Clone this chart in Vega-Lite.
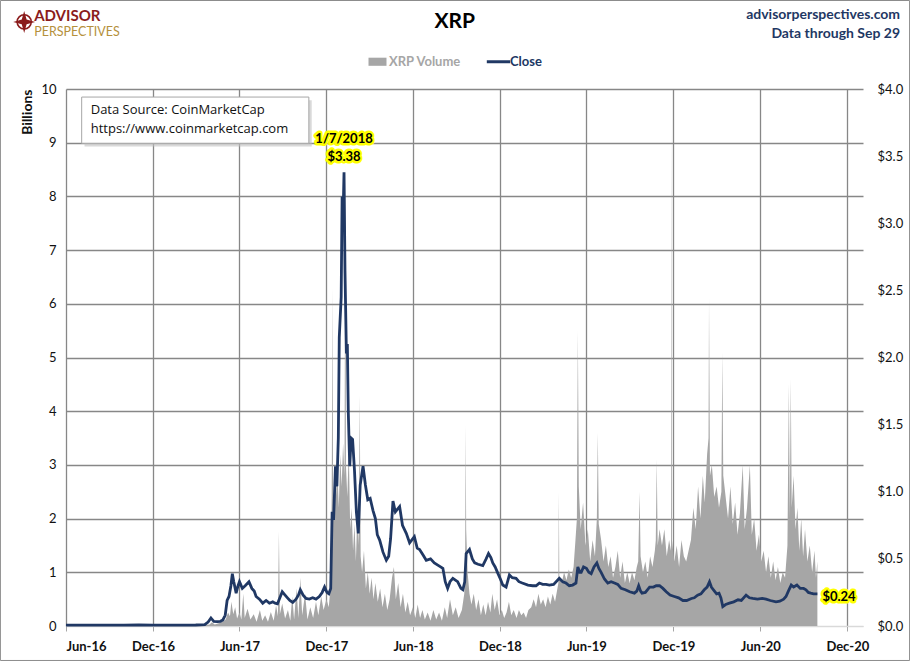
{
  "$schema": "https://vega.github.io/schema/vega-lite/v6.json",
  "width": 797,
  "height": 537,
  "autosize": "none",
  "padding": {"left": 66, "top": 89, "right": 47, "bottom": 35},
  "background": "white",
  "config": {
    "font": "Lato",
    "view": {"stroke": null},
    "axis": {"labelFont": "Lato", "titleFont": "Lato", "labelColor": "#111", "titleColor": "#111"}
  },
  "datasets": {
    "price": [
      {"date": "2016-06-01", "close": 0.006}, {"date": "2016-07-01", "close": 0.0065}, {"date": "2016-08-01", "close": 0.0062},
      {"date": "2016-09-01", "close": 0.0068}, {"date": "2016-10-01", "close": 0.0072}, {"date": "2016-11-01", "close": 0.0075},
      {"date": "2016-12-01", "close": 0.0068}, {"date": "2017-01-01", "close": 0.0065}, {"date": "2017-02-01", "close": 0.0063},
      {"date": "2017-03-01", "close": 0.0075}, {"date": "2017-03-20", "close": 0.01}, {"date": "2017-03-27", "close": 0.03},
      {"date": "2017-04-02", "close": 0.06}, {"date": "2017-04-08", "close": 0.035}, {"date": "2017-04-15", "close": 0.032},
      {"date": "2017-04-22", "close": 0.035}, {"date": "2017-04-27", "close": 0.045}, {"date": "2017-05-02", "close": 0.08},
      {"date": "2017-05-06", "close": 0.19}, {"date": "2017-05-10", "close": 0.22}, {"date": "2017-05-14", "close": 0.3},
      {"date": "2017-05-17", "close": 0.39}, {"date": "2017-05-20", "close": 0.33}, {"date": "2017-05-25", "close": 0.245},
      {"date": "2017-05-29", "close": 0.3}, {"date": "2017-06-01", "close": 0.33}, {"date": "2017-06-07", "close": 0.28},
      {"date": "2017-06-13", "close": 0.3}, {"date": "2017-06-21", "close": 0.33}, {"date": "2017-06-27", "close": 0.28},
      {"date": "2017-07-02", "close": 0.26}, {"date": "2017-07-06", "close": 0.22}, {"date": "2017-07-13", "close": 0.2},
      {"date": "2017-07-20", "close": 0.17}, {"date": "2017-07-27", "close": 0.19}, {"date": "2017-08-03", "close": 0.17},
      {"date": "2017-08-10", "close": 0.18}, {"date": "2017-08-15", "close": 0.17}, {"date": "2017-08-20", "close": 0.165},
      {"date": "2017-08-25", "close": 0.21}, {"date": "2017-08-30", "close": 0.255}, {"date": "2017-09-05", "close": 0.23},
      {"date": "2017-09-10", "close": 0.21}, {"date": "2017-09-15", "close": 0.19}, {"date": "2017-09-21", "close": 0.175},
      {"date": "2017-09-28", "close": 0.2}, {"date": "2017-10-03", "close": 0.23}, {"date": "2017-10-07", "close": 0.27},
      {"date": "2017-10-13", "close": 0.23}, {"date": "2017-10-19", "close": 0.205}, {"date": "2017-10-26", "close": 0.2},
      {"date": "2017-11-02", "close": 0.21}, {"date": "2017-11-09", "close": 0.2}, {"date": "2017-11-16", "close": 0.22},
      {"date": "2017-11-22", "close": 0.25}, {"date": "2017-11-27", "close": 0.29}, {"date": "2017-12-02", "close": 0.25},
      {"date": "2017-12-06", "close": 0.24}, {"date": "2017-12-10", "close": 0.28}, {"date": "2017-12-13", "close": 0.85},
      {"date": "2017-12-16", "close": 0.79}, {"date": "2017-12-20", "close": 1.19}, {"date": "2017-12-23", "close": 1.04},
      {"date": "2017-12-26", "close": 1.4}, {"date": "2017-12-28", "close": 2.15}, {"date": "2018-01-01", "close": 2.45},
      {"date": "2018-01-03", "close": 3.2}, {"date": "2018-01-05", "close": 3.05}, {"date": "2018-01-07", "close": 3.38},
      {"date": "2018-01-09", "close": 2.65}, {"date": "2018-01-12", "close": 2.03}, {"date": "2018-01-14", "close": 2.1},
      {"date": "2018-01-16", "close": 1.59}, {"date": "2018-01-19", "close": 1.19}, {"date": "2018-01-22", "close": 1.4},
      {"date": "2018-01-25", "close": 1.39}, {"date": "2018-01-29", "close": 1.16}, {"date": "2018-02-02", "close": 0.85},
      {"date": "2018-02-06", "close": 0.69}, {"date": "2018-02-10", "close": 1.05}, {"date": "2018-02-16", "close": 1.19},
      {"date": "2018-02-21", "close": 1.05}, {"date": "2018-02-26", "close": 0.94}, {"date": "2018-03-03", "close": 0.95},
      {"date": "2018-03-09", "close": 0.86}, {"date": "2018-03-14", "close": 0.8}, {"date": "2018-03-18", "close": 0.68},
      {"date": "2018-03-23", "close": 0.64}, {"date": "2018-03-30", "close": 0.55}, {"date": "2018-04-06", "close": 0.49},
      {"date": "2018-04-11", "close": 0.52}, {"date": "2018-04-15", "close": 0.65}, {"date": "2018-04-20", "close": 0.93},
      {"date": "2018-04-25", "close": 0.85}, {"date": "2018-05-04", "close": 0.89}, {"date": "2018-05-10", "close": 0.75},
      {"date": "2018-05-18", "close": 0.69}, {"date": "2018-05-25", "close": 0.62}, {"date": "2018-06-04", "close": 0.665},
      {"date": "2018-06-10", "close": 0.58}, {"date": "2018-06-15", "close": 0.57}, {"date": "2018-06-22", "close": 0.53},
      {"date": "2018-06-29", "close": 0.49}, {"date": "2018-07-08", "close": 0.5}, {"date": "2018-07-16", "close": 0.47},
      {"date": "2018-07-25", "close": 0.45}, {"date": "2018-08-03", "close": 0.43}, {"date": "2018-08-08", "close": 0.33},
      {"date": "2018-08-13", "close": 0.28}, {"date": "2018-08-18", "close": 0.33}, {"date": "2018-08-24", "close": 0.355},
      {"date": "2018-09-03", "close": 0.33}, {"date": "2018-09-10", "close": 0.28}, {"date": "2018-09-14", "close": 0.27},
      {"date": "2018-09-18", "close": 0.33}, {"date": "2018-09-21", "close": 0.54}, {"date": "2018-09-28", "close": 0.57},
      {"date": "2018-10-04", "close": 0.5}, {"date": "2018-10-09", "close": 0.47}, {"date": "2018-10-16", "close": 0.46},
      {"date": "2018-10-26", "close": 0.45}, {"date": "2018-11-02", "close": 0.5}, {"date": "2018-11-07", "close": 0.54},
      {"date": "2018-11-12", "close": 0.51}, {"date": "2018-11-16", "close": 0.47}, {"date": "2018-11-21", "close": 0.44},
      {"date": "2018-11-27", "close": 0.39}, {"date": "2018-12-02", "close": 0.35}, {"date": "2018-12-07", "close": 0.305},
      {"date": "2018-12-14", "close": 0.29}, {"date": "2018-12-21", "close": 0.38}, {"date": "2018-12-27", "close": 0.36},
      {"date": "2019-01-04", "close": 0.355}, {"date": "2019-01-10", "close": 0.33}, {"date": "2019-01-17", "close": 0.32},
      {"date": "2019-01-29", "close": 0.305}, {"date": "2019-02-08", "close": 0.3}, {"date": "2019-02-15", "close": 0.3},
      {"date": "2019-02-22", "close": 0.32}, {"date": "2019-03-01", "close": 0.31}, {"date": "2019-03-08", "close": 0.31},
      {"date": "2019-03-15", "close": 0.305}, {"date": "2019-03-24", "close": 0.31}, {"date": "2019-04-05", "close": 0.355},
      {"date": "2019-04-12", "close": 0.33}, {"date": "2019-04-19", "close": 0.32}, {"date": "2019-04-26", "close": 0.3},
      {"date": "2019-05-03", "close": 0.305}, {"date": "2019-05-10", "close": 0.32}, {"date": "2019-05-14", "close": 0.44},
      {"date": "2019-05-18", "close": 0.4}, {"date": "2019-05-21", "close": 0.4}, {"date": "2019-05-26", "close": 0.44},
      {"date": "2019-06-01", "close": 0.43}, {"date": "2019-06-06", "close": 0.4}, {"date": "2019-06-11", "close": 0.39},
      {"date": "2019-06-17", "close": 0.44}, {"date": "2019-06-23", "close": 0.47}, {"date": "2019-06-27", "close": 0.43},
      {"date": "2019-07-02", "close": 0.4}, {"date": "2019-07-09", "close": 0.35}, {"date": "2019-07-16", "close": 0.32},
      {"date": "2019-07-23", "close": 0.33}, {"date": "2019-07-30", "close": 0.32}, {"date": "2019-08-06", "close": 0.31},
      {"date": "2019-08-13", "close": 0.28}, {"date": "2019-08-22", "close": 0.27}, {"date": "2019-08-31", "close": 0.255},
      {"date": "2019-09-10", "close": 0.245}, {"date": "2019-09-15", "close": 0.26}, {"date": "2019-09-19", "close": 0.3},
      {"date": "2019-09-23", "close": 0.26}, {"date": "2019-09-26", "close": 0.245}, {"date": "2019-10-03", "close": 0.25},
      {"date": "2019-10-12", "close": 0.29}, {"date": "2019-10-20", "close": 0.29}, {"date": "2019-10-26", "close": 0.3},
      {"date": "2019-11-02", "close": 0.3}, {"date": "2019-11-09", "close": 0.28}, {"date": "2019-11-16", "close": 0.255},
      {"date": "2019-11-24", "close": 0.23}, {"date": "2019-12-03", "close": 0.22}, {"date": "2019-12-12", "close": 0.21},
      {"date": "2019-12-21", "close": 0.19}, {"date": "2019-12-29", "close": 0.19}, {"date": "2020-01-08", "close": 0.205},
      {"date": "2020-01-14", "close": 0.21}, {"date": "2020-01-21", "close": 0.23}, {"date": "2020-01-28", "close": 0.24},
      {"date": "2020-02-04", "close": 0.27}, {"date": "2020-02-10", "close": 0.29}, {"date": "2020-02-15", "close": 0.33},
      {"date": "2020-02-19", "close": 0.29}, {"date": "2020-02-23", "close": 0.27}, {"date": "2020-03-01", "close": 0.24},
      {"date": "2020-03-06", "close": 0.245}, {"date": "2020-03-10", "close": 0.21}, {"date": "2020-03-14", "close": 0.145},
      {"date": "2020-03-20", "close": 0.16}, {"date": "2020-03-28", "close": 0.17}, {"date": "2020-04-06", "close": 0.18},
      {"date": "2020-04-15", "close": 0.195}, {"date": "2020-04-22", "close": 0.19}, {"date": "2020-05-02", "close": 0.23},
      {"date": "2020-05-09", "close": 0.21}, {"date": "2020-05-16", "close": 0.205}, {"date": "2020-05-26", "close": 0.2},
      {"date": "2020-06-05", "close": 0.205}, {"date": "2020-06-13", "close": 0.2}, {"date": "2020-06-22", "close": 0.19},
      {"date": "2020-07-04", "close": 0.18}, {"date": "2020-07-12", "close": 0.185}, {"date": "2020-07-20", "close": 0.2},
      {"date": "2020-07-25", "close": 0.22}, {"date": "2020-07-30", "close": 0.26}, {"date": "2020-08-05", "close": 0.305},
      {"date": "2020-08-10", "close": 0.29}, {"date": "2020-08-17", "close": 0.305}, {"date": "2020-08-24", "close": 0.28},
      {"date": "2020-08-31", "close": 0.28}, {"date": "2020-09-05", "close": 0.27}, {"date": "2020-09-10", "close": 0.25},
      {"date": "2020-09-15", "close": 0.245}, {"date": "2020-09-21", "close": 0.24}, {"date": "2020-09-29", "close": 0.24}
    ],
    "volume": [
      {"date": "2016-06-01", "volume": 0.002}, {"date": "2016-08-01", "volume": 0.003}, {"date": "2016-10-01", "volume": 0.002},
      {"date": "2016-12-01", "volume": 0.003}, {"date": "2017-02-01", "volume": 0.004}, {"date": "2017-03-15", "volume": 0.01},
      {"date": "2017-03-30", "volume": 0.03}, {"date": "2017-04-04", "volume": 0.07}, {"date": "2017-04-10", "volume": 0.03},
      {"date": "2017-04-18", "volume": 0.05}, {"date": "2017-04-26", "volume": 0.08}, {"date": "2017-05-03", "volume": 0.12},
      {"date": "2017-05-08", "volume": 0.25}, {"date": "2017-05-12", "volume": 0.18}, {"date": "2017-05-15", "volume": 0.45},
      {"date": "2017-05-19", "volume": 0.22}, {"date": "2017-05-23", "volume": 0.35}, {"date": "2017-05-27", "volume": 0.14},
      {"date": "2017-06-01", "volume": 0.25}, {"date": "2017-06-05", "volume": 0.12}, {"date": "2017-06-09", "volume": 0.6},
      {"date": "2017-06-12", "volume": 0.15}, {"date": "2017-06-18", "volume": 0.32}, {"date": "2017-06-24", "volume": 0.12},
      {"date": "2017-07-01", "volume": 0.22}, {"date": "2017-07-07", "volume": 0.08}, {"date": "2017-07-14", "volume": 0.3},
      {"date": "2017-07-19", "volume": 0.1}, {"date": "2017-07-25", "volume": 0.2}, {"date": "2017-07-31", "volume": 0.08},
      {"date": "2017-08-06", "volume": 0.26}, {"date": "2017-08-12", "volume": 0.1}, {"date": "2017-08-17", "volume": 0.38},
      {"date": "2017-08-21", "volume": 0.18}, {"date": "2017-08-23", "volume": 1.76}, {"date": "2017-08-25", "volume": 0.22},
      {"date": "2017-08-30", "volume": 0.42}, {"date": "2017-09-05", "volume": 0.14}, {"date": "2017-09-11", "volume": 0.3},
      {"date": "2017-09-16", "volume": 0.1}, {"date": "2017-09-20", "volume": 0.55}, {"date": "2017-09-24", "volume": 0.12},
      {"date": "2017-09-29", "volume": 0.7}, {"date": "2017-10-03", "volume": 0.15}, {"date": "2017-10-07", "volume": 0.9},
      {"date": "2017-10-11", "volume": 0.2}, {"date": "2017-10-17", "volume": 0.6}, {"date": "2017-10-22", "volume": 0.12},
      {"date": "2017-10-28", "volume": 0.35}, {"date": "2017-11-03", "volume": 0.15}, {"date": "2017-11-09", "volume": 0.45},
      {"date": "2017-11-14", "volume": 0.2}, {"date": "2017-11-20", "volume": 0.55}, {"date": "2017-11-25", "volume": 0.3},
      {"date": "2017-12-01", "volume": 0.5}, {"date": "2017-12-06", "volume": 0.35}, {"date": "2017-12-10", "volume": 0.8},
      {"date": "2017-12-12", "volume": 2.4}, {"date": "2017-12-14", "volume": 6.3}, {"date": "2017-12-15", "volume": 2.2},
      {"date": "2017-12-17", "volume": 2.0}, {"date": "2017-12-19", "volume": 3.0}, {"date": "2017-12-21", "volume": 2.4},
      {"date": "2017-12-24", "volume": 2.9}, {"date": "2017-12-27", "volume": 2.2}, {"date": "2017-12-30", "volume": 3.2},
      {"date": "2018-01-02", "volume": 2.6}, {"date": "2018-01-05", "volume": 3.4}, {"date": "2018-01-08", "volume": 2.8},
      {"date": "2018-01-10", "volume": 8.6}, {"date": "2018-01-11", "volume": 3.0}, {"date": "2018-01-14", "volume": 2.4},
      {"date": "2018-01-17", "volume": 3.3}, {"date": "2018-01-20", "volume": 1.8}, {"date": "2018-01-23", "volume": 2.2},
      {"date": "2018-01-26", "volume": 1.4}, {"date": "2018-01-29", "volume": 1.9}, {"date": "2018-02-01", "volume": 1.2},
      {"date": "2018-02-04", "volume": 2.1}, {"date": "2018-02-07", "volume": 1.5}, {"date": "2018-02-09", "volume": 4.3},
      {"date": "2018-02-11", "volume": 1.3}, {"date": "2018-02-14", "volume": 1.0}, {"date": "2018-02-18", "volume": 1.4},
      {"date": "2018-02-22", "volume": 0.7}, {"date": "2018-02-26", "volume": 1.0}, {"date": "2018-03-02", "volume": 0.6},
      {"date": "2018-03-06", "volume": 0.9}, {"date": "2018-03-10", "volume": 0.5}, {"date": "2018-03-14", "volume": 0.8},
      {"date": "2018-03-19", "volume": 0.45}, {"date": "2018-03-24", "volume": 0.7}, {"date": "2018-03-29", "volume": 0.35},
      {"date": "2018-04-03", "volume": 0.6}, {"date": "2018-04-08", "volume": 0.3}, {"date": "2018-04-13", "volume": 0.5},
      {"date": "2018-04-18", "volume": 0.9}, {"date": "2018-04-22", "volume": 1.1}, {"date": "2018-04-26", "volume": 0.5},
      {"date": "2018-05-01", "volume": 0.8}, {"date": "2018-05-06", "volume": 0.35}, {"date": "2018-05-11", "volume": 0.6},
      {"date": "2018-05-16", "volume": 0.25}, {"date": "2018-05-21", "volume": 0.45}, {"date": "2018-05-26", "volume": 0.2},
      {"date": "2018-06-01", "volume": 0.35}, {"date": "2018-06-06", "volume": 0.15}, {"date": "2018-06-11", "volume": 0.4},
      {"date": "2018-06-16", "volume": 0.15}, {"date": "2018-06-21", "volume": 0.3}, {"date": "2018-06-26", "volume": 0.12},
      {"date": "2018-07-02", "volume": 0.25}, {"date": "2018-07-08", "volume": 0.1}, {"date": "2018-07-14", "volume": 0.3},
      {"date": "2018-07-20", "volume": 0.12}, {"date": "2018-07-26", "volume": 0.25}, {"date": "2018-08-01", "volume": 0.1},
      {"date": "2018-08-07", "volume": 0.35}, {"date": "2018-08-12", "volume": 0.15}, {"date": "2018-08-18", "volume": 0.5},
      {"date": "2018-08-24", "volume": 0.2}, {"date": "2018-08-30", "volume": 0.35}, {"date": "2018-09-05", "volume": 0.15},
      {"date": "2018-09-12", "volume": 0.3}, {"date": "2018-09-17", "volume": 0.6}, {"date": "2018-09-19", "volume": 1.5},
      {"date": "2018-09-20", "volume": 3.74}, {"date": "2018-09-21", "volume": 1.8}, {"date": "2018-09-24", "volume": 1.0},
      {"date": "2018-09-28", "volume": 0.6}, {"date": "2018-10-02", "volume": 0.4}, {"date": "2018-10-07", "volume": 0.6},
      {"date": "2018-10-12", "volume": 0.3}, {"date": "2018-10-17", "volume": 0.5}, {"date": "2018-10-22", "volume": 0.2},
      {"date": "2018-10-27", "volume": 0.4}, {"date": "2018-11-01", "volume": 0.2}, {"date": "2018-11-06", "volume": 0.45},
      {"date": "2018-11-11", "volume": 0.25}, {"date": "2018-11-15", "volume": 0.6}, {"date": "2018-11-20", "volume": 0.3},
      {"date": "2018-11-25", "volume": 0.5}, {"date": "2018-11-30", "volume": 0.2}, {"date": "2018-12-05", "volume": 0.3},
      {"date": "2018-12-10", "volume": 0.15}, {"date": "2018-12-15", "volume": 0.25}, {"date": "2018-12-20", "volume": 0.45},
      {"date": "2018-12-25", "volume": 0.2}, {"date": "2018-12-30", "volume": 0.3}, {"date": "2019-01-05", "volume": 0.15},
      {"date": "2019-01-10", "volume": 0.3}, {"date": "2019-01-15", "volume": 0.2}, {"date": "2019-01-20", "volume": 0.25},
      {"date": "2019-01-25", "volume": 0.15}, {"date": "2019-01-30", "volume": 0.3}, {"date": "2019-02-05", "volume": 0.35},
      {"date": "2019-02-10", "volume": 0.5}, {"date": "2019-02-15", "volume": 0.35}, {"date": "2019-02-20", "volume": 0.6},
      {"date": "2019-02-25", "volume": 0.4}, {"date": "2019-03-02", "volume": 0.5}, {"date": "2019-03-07", "volume": 0.35},
      {"date": "2019-03-12", "volume": 0.55}, {"date": "2019-03-17", "volume": 0.4}, {"date": "2019-03-22", "volume": 0.6},
      {"date": "2019-03-27", "volume": 0.45}, {"date": "2019-04-01", "volume": 0.7}, {"date": "2019-04-03", "volume": 0.8},
      {"date": "2019-04-04", "volume": 2.5}, {"date": "2019-04-05", "volume": 0.9}, {"date": "2019-04-10", "volume": 0.8},
      {"date": "2019-04-15", "volume": 1.0}, {"date": "2019-04-20", "volume": 0.85}, {"date": "2019-04-25", "volume": 1.05},
      {"date": "2019-04-30", "volume": 0.9}, {"date": "2019-05-05", "volume": 1.1}, {"date": "2019-05-09", "volume": 1.6},
      {"date": "2019-05-12", "volume": 2.0}, {"date": "2019-05-14", "volume": 5.5}, {"date": "2019-05-16", "volume": 2.6},
      {"date": "2019-05-20", "volume": 1.8}, {"date": "2019-05-25", "volume": 2.3}, {"date": "2019-05-30", "volume": 1.5},
      {"date": "2019-06-04", "volume": 1.8}, {"date": "2019-06-09", "volume": 1.2}, {"date": "2019-06-14", "volume": 1.6},
      {"date": "2019-06-19", "volume": 1.3}, {"date": "2019-06-23", "volume": 2.0}, {"date": "2019-06-25", "volume": 3.6},
      {"date": "2019-06-27", "volume": 1.9}, {"date": "2019-07-02", "volume": 1.6}, {"date": "2019-07-07", "volume": 1.2},
      {"date": "2019-07-12", "volume": 1.5}, {"date": "2019-07-17", "volume": 1.1}, {"date": "2019-07-22", "volume": 1.3},
      {"date": "2019-07-27", "volume": 0.9}, {"date": "2019-08-01", "volume": 1.1}, {"date": "2019-08-06", "volume": 1.4},
      {"date": "2019-08-11", "volume": 0.9}, {"date": "2019-08-16", "volume": 1.2}, {"date": "2019-08-21", "volume": 0.8},
      {"date": "2019-08-26", "volume": 1.0}, {"date": "2019-08-31", "volume": 0.8}, {"date": "2019-09-05", "volume": 1.0},
      {"date": "2019-09-10", "volume": 0.85}, {"date": "2019-09-15", "volume": 1.1}, {"date": "2019-09-18", "volume": 1.2},
      {"date": "2019-09-21", "volume": 2.5}, {"date": "2019-09-23", "volume": 1.3}, {"date": "2019-09-28", "volume": 1.0},
      {"date": "2019-10-03", "volume": 1.2}, {"date": "2019-10-08", "volume": 0.9}, {"date": "2019-10-13", "volume": 1.3},
      {"date": "2019-10-18", "volume": 1.1}, {"date": "2019-10-23", "volume": 1.4}, {"date": "2019-10-25", "volume": 1.6},
      {"date": "2019-10-27", "volume": 3.1}, {"date": "2019-10-29", "volume": 1.5}, {"date": "2019-11-02", "volume": 1.8},
      {"date": "2019-11-07", "volume": 1.5}, {"date": "2019-11-12", "volume": 1.8}, {"date": "2019-11-17", "volume": 1.3},
      {"date": "2019-11-22", "volume": 1.6}, {"date": "2019-11-26", "volume": 1.4}, {"date": "2019-11-27", "volume": 9.4},
      {"date": "2019-11-28", "volume": 1.6}, {"date": "2019-12-03", "volume": 1.2}, {"date": "2019-12-08", "volume": 1.5},
      {"date": "2019-12-13", "volume": 1.1}, {"date": "2019-12-18", "volume": 1.6}, {"date": "2019-12-23", "volume": 1.3},
      {"date": "2019-12-28", "volume": 1.2}, {"date": "2020-01-02", "volume": 1.4}, {"date": "2020-01-07", "volume": 1.6},
      {"date": "2020-01-12", "volume": 2.2}, {"date": "2020-01-17", "volume": 1.8}, {"date": "2020-01-22", "volume": 2.6},
      {"date": "2020-01-27", "volume": 2.0}, {"date": "2020-02-01", "volume": 2.8}, {"date": "2020-02-05", "volume": 2.3},
      {"date": "2020-02-10", "volume": 3.2}, {"date": "2020-02-13", "volume": 3.5}, {"date": "2020-02-14", "volume": 6.1},
      {"date": "2020-02-16", "volume": 2.8}, {"date": "2020-02-20", "volume": 3.0}, {"date": "2020-02-25", "volume": 2.4},
      {"date": "2020-03-01", "volume": 2.6}, {"date": "2020-03-06", "volume": 2.2}, {"date": "2020-03-11", "volume": 2.5},
      {"date": "2020-03-13", "volume": 5.1}, {"date": "2020-03-15", "volume": 2.8}, {"date": "2020-03-20", "volume": 2.4},
      {"date": "2020-03-25", "volume": 2.0}, {"date": "2020-03-30", "volume": 2.6}, {"date": "2020-04-04", "volume": 1.9},
      {"date": "2020-04-09", "volume": 2.3}, {"date": "2020-04-14", "volume": 1.7}, {"date": "2020-04-19", "volume": 2.1},
      {"date": "2020-04-25", "volume": 3.0}, {"date": "2020-04-29", "volume": 1.8}, {"date": "2020-05-04", "volume": 2.2},
      {"date": "2020-05-10", "volume": 3.0}, {"date": "2020-05-14", "volume": 1.7}, {"date": "2020-05-19", "volume": 2.0},
      {"date": "2020-05-24", "volume": 1.4}, {"date": "2020-05-29", "volume": 1.7}, {"date": "2020-06-03", "volume": 1.2},
      {"date": "2020-06-08", "volume": 1.4}, {"date": "2020-06-13", "volume": 1.0}, {"date": "2020-06-18", "volume": 1.3},
      {"date": "2020-06-23", "volume": 0.9}, {"date": "2020-06-28", "volume": 1.2}, {"date": "2020-07-03", "volume": 0.85},
      {"date": "2020-07-08", "volume": 1.1}, {"date": "2020-07-13", "volume": 0.8}, {"date": "2020-07-18", "volume": 1.0},
      {"date": "2020-07-23", "volume": 0.9}, {"date": "2020-07-28", "volume": 1.5}, {"date": "2020-07-31", "volume": 4.5},
      {"date": "2020-08-02", "volume": 2.0}, {"date": "2020-08-04", "volume": 4.6}, {"date": "2020-08-06", "volume": 2.2},
      {"date": "2020-08-10", "volume": 2.8}, {"date": "2020-08-14", "volume": 1.8}, {"date": "2020-08-18", "volume": 2.2},
      {"date": "2020-08-22", "volume": 1.4}, {"date": "2020-08-26", "volume": 2.0}, {"date": "2020-08-30", "volume": 1.3},
      {"date": "2020-09-03", "volume": 1.8}, {"date": "2020-09-08", "volume": 1.2}, {"date": "2020-09-13", "volume": 1.5},
      {"date": "2020-09-18", "volume": 1.0}, {"date": "2020-09-23", "volume": 1.4}, {"date": "2020-09-26", "volume": 0.9},
      {"date": "2020-09-29", "volume": 1.2}
    ],
    "marked": [
      {"date": "2018-01-07", "close": 3.38},
      {"date": "2020-09-29", "close": 0.24}
    ]
  },
  "resolve": {"scale": {"y": "independent"}},
  "layer": [
    {
      "data": {"values": [{"note": "frame"}]},
      "mark": {"type": "rect", "fill": null, "stroke": "#8c8c8c", "strokeWidth": 1},
      "encoding": {
        "x": {"datum": {"year": 2016, "month": 1, "date": 15, "utc": true}, "type": "temporal",
              "scale": {"type": "utc", "domain": [{"year": 2016, "month": 6, "date": 1, "utc": true}, {"year": 2021, "month": 1, "date": 3, "utc": true}], "nice": false}},
        "x2": {"datum": {"year": 2021, "month": 4, "date": 11, "utc": true}},
        "y": {"datum": 11.648, "type": "quantitative", "scale": {"domain": [0, 10], "nice": false}, "axis": null},
        "y2": {"datum": -0.642}
      }
    },
    {
      "data": {"name": "volume"},
      "mark": {"type": "area", "interpolate": "linear"},
      "encoding": {
        "x": {"field": "date", "type": "temporal",
              "scale": {"type": "utc", "domain": [{"year": 2016, "month": 6, "date": 1, "utc": true}, {"year": 2021, "month": 1, "date": 3, "utc": true}], "nice": false},
              "axis": {
                "title": null, "format": "%b-%y",
                "values": [
                  {"year": 2016, "month": 6, "date": 1, "utc": true}, {"year": 2016, "month": 12, "date": 1, "utc": true},
                  {"year": 2017, "month": 6, "date": 1, "utc": true}, {"year": 2017, "month": 12, "date": 1, "utc": true},
                  {"year": 2018, "month": 6, "date": 1, "utc": true}, {"year": 2018, "month": 12, "date": 1, "utc": true},
                  {"year": 2019, "month": 6, "date": 1, "utc": true}, {"year": 2019, "month": 12, "date": 1, "utc": true},
                  {"year": 2020, "month": 6, "date": 1, "utc": true}, {"year": 2020, "month": 12, "date": 1, "utc": true}
                ],
                "labelFontSize": 13, "labelFontWeight": "bold", "labelPadding": 9,
                "domainColor": "#d9d9d9", "domainWidth": 1,
                "tickColor": "#a6a6a6", "tickSize": 5,
                "grid": true, "gridColor": "#878787", "gridWidth": 1.3
              }},
        "y": {"field": "volume", "type": "quantitative",
              "scale": {"domain": [0, 10], "nice": false},
              "axis": {
                "title": "Billions", "titleFontWeight": "bold", "titleFontSize": 14, "titleAnchor": "end", "titlePadding": 6,
                "values": [0, 1, 2, 3, 4, 5, 6, 7, 8, 9, 10],
                "labelFontSize": 13, "labelPadding": 10, "domain": false, "ticks": false,
                "grid": true, "gridWidth": 1.3,
                "gridColor": {"condition": {"test": "datum.value === 0", "value": "#d9d9d9"}, "value": "#878787"}
              }},
        "color": {
          "datum": "XRP Volume",
          "scale": {"domain": ["XRP Volume", "Close"], "range": ["#a6a6a6", "#203864"]},
          "legend": {
            "orient": "none", "legendX": 305, "legendY": -34, "direction": "horizontal", "title": null,
            "labelFontSize": 13, "labelFontWeight": "bold", "labelFont": "Lato",
            "symbolSize": 324, "columnPadding": 18, "labelOffset": 5,
            "encode": {
              "symbols": {"update": {
                "shape": {"signal": "datum.label === 'Close' ? 'M-1.3,0H1.3' : 'M-1,-0.45H1V0.45H-1Z'"},
                "fill": {"signal": "datum.label === 'Close' ? 'transparent' : '#a6a6a6'"},
                "stroke": {"signal": "datum.label === 'Close' ? '#203864' : '#a6a6a6'"},
                "strokeWidth": {"signal": "datum.label === 'Close' ? 3 : 0"}
              }},
              "labels": {"update": {"fill": {"signal": "datum.label === 'Close' ? '#203864' : '#a6a6a6'"}}}
            }
          }
        }
      }
    },
    {
      "data": {"name": "price"},
      "mark": {"type": "line", "strokeWidth": 2.8, "interpolate": "linear"},
      "encoding": {
        "x": {"field": "date", "type": "temporal",
              "scale": {"type": "utc", "domain": [{"year": 2016, "month": 6, "date": 1, "utc": true}, {"year": 2021, "month": 1, "date": 3, "utc": true}], "nice": false}},
        "y": {"field": "close", "type": "quantitative",
              "scale": {"domain": [0, 4], "nice": false},
              "axis": {
                "orient": "right", "title": null, "format": "$.1f",
                "values": [0, 0.5, 1, 1.5, 2, 2.5, 3, 3.5, 4],
                "labelFontSize": 13, "labelPadding": 14, "domain": false, "ticks": false, "grid": false
              }},
        "color": {"datum": "Close"}
      }
    },
    {
      "data": {"values": [{"note": "box"}]},
      "layer": [
        {
          "mark": {"type": "rect", "fill": "#bfbfbf", "opacity": 0.6},
          "encoding": {
            "x": {"datum": {"year": 2016, "month": 7, "date": 10, "utc": true}, "type": "temporal",
                  "scale": {"type": "utc", "domain": [{"year": 2016, "month": 6, "date": 1, "utc": true}, {"year": 2021, "month": 1, "date": 3, "utc": true}], "nice": false}},
            "x2": {"datum": {"year": 2017, "month": 10, "date": 31, "utc": true}},
            "y": {"datum": 9.79, "type": "quantitative", "scale": {"domain": [0, 10], "nice": false}, "axis": null},
            "y2": {"datum": 8.93}
          }
        },
        {
          "mark": {"type": "rect", "fill": "white", "stroke": "#a6a6a6", "strokeWidth": 1},
          "encoding": {
            "x": {"datum": {"year": 2016, "month": 7, "date": 4, "utc": true}, "type": "temporal",
                  "scale": {"type": "utc", "domain": [{"year": 2016, "month": 6, "date": 1, "utc": true}, {"year": 2021, "month": 1, "date": 3, "utc": true}], "nice": false}},
            "x2": {"datum": {"year": 2017, "month": 10, "date": 25, "utc": true}},
            "y": {"datum": 9.85, "type": "quantitative", "scale": {"domain": [0, 10], "nice": false}, "axis": null},
            "y2": {"datum": 8.99}
          }
        }
      ]
    },
    {
      "data": {"values": [{"note": "Data Source: CoinMarketCap"}]},
      "mark": {"type": "text", "align": "left", "baseline": "middle", "font": "Open Sans", "fontSize": 13, "color": "#111"},
      "encoding": {
        "x": {"datum": {"year": 2016, "month": 7, "date": 23, "utc": true}, "type": "temporal",
              "scale": {"type": "utc", "domain": [{"year": 2016, "month": 6, "date": 1, "utc": true}, {"year": 2021, "month": 1, "date": 3, "utc": true}], "nice": false}},
        "y": {"datum": 9.6, "type": "quantitative", "scale": {"domain": [0, 10], "nice": false}, "axis": null},
        "text": {"field": "note"}
      }
    },
    {
      "data": {"values": [{"note": "https://www.coinmarketcap.com"}]},
      "mark": {"type": "text", "align": "left", "baseline": "middle", "font": "Open Sans", "fontSize": 13, "color": "#111"},
      "encoding": {
        "x": {"datum": {"year": 2016, "month": 7, "date": 23, "utc": true}, "type": "temporal",
              "scale": {"type": "utc", "domain": [{"year": 2016, "month": 6, "date": 1, "utc": true}, {"year": 2021, "month": 1, "date": 3, "utc": true}], "nice": false}},
        "y": {"datum": 9.25, "type": "quantitative", "scale": {"domain": [0, 10], "nice": false}, "axis": null},
        "text": {"field": "note"}
      }
    },
    {
      "data": {"name": "marked"},
      "transform": [{"filter": "datum.close > 1"}],
      "layer": [
        {"mark": {"type": "text", "dy": -33, "fontSize": 13, "fontWeight": "bold", "color": "#ffff00", "stroke": "#ffff00", "strokeWidth": 5, "strokeJoin": "round"}},
        {"mark": {"type": "text", "dy": -33, "fontSize": 13, "fontWeight": "bold", "color": "#000"}}
      ],
      "encoding": {
        "x": {"field": "date", "type": "temporal",
              "scale": {"type": "utc", "domain": [{"year": 2016, "month": 6, "date": 1, "utc": true}, {"year": 2021, "month": 1, "date": 3, "utc": true}], "nice": false}},
        "y": {"field": "close", "type": "quantitative", "scale": {"domain": [0, 4], "nice": false}, "axis": null},
        "text": {"field": "date", "type": "temporal", "timeUnit": "utcyearmonthdate", "format": "%-m/%-d/%Y"}
      }
    },
    {
      "data": {"name": "marked"},
      "transform": [{"filter": "datum.close > 1"}],
      "layer": [
        {"mark": {"type": "text", "dy": -15, "fontSize": 13, "fontWeight": "bold", "color": "#ffff00", "stroke": "#ffff00", "strokeWidth": 5, "strokeJoin": "round"}},
        {"mark": {"type": "text", "dy": -15, "fontSize": 13, "fontWeight": "bold", "color": "#000"}}
      ],
      "encoding": {
        "x": {"field": "date", "type": "temporal",
              "scale": {"type": "utc", "domain": [{"year": 2016, "month": 6, "date": 1, "utc": true}, {"year": 2021, "month": 1, "date": 3, "utc": true}], "nice": false}},
        "y": {"field": "close", "type": "quantitative", "scale": {"domain": [0, 4], "nice": false}, "axis": null},
        "text": {"field": "close", "type": "quantitative", "format": "$.2f"}
      }
    },
    {
      "data": {"name": "marked"},
      "transform": [{"filter": "datum.close < 1"}],
      "layer": [
        {"mark": {"type": "text", "align": "left", "dx": 5, "dy": 3, "fontSize": 13, "fontWeight": "bold", "color": "#ffff00", "stroke": "#ffff00", "strokeWidth": 5, "strokeJoin": "round"}},
        {"mark": {"type": "text", "align": "left", "dx": 5, "dy": 3, "fontSize": 13, "fontWeight": "bold", "color": "#000"}}
      ],
      "encoding": {
        "x": {"field": "date", "type": "temporal",
              "scale": {"type": "utc", "domain": [{"year": 2016, "month": 6, "date": 1, "utc": true}, {"year": 2021, "month": 1, "date": 3, "utc": true}], "nice": false}},
        "y": {"field": "close", "type": "quantitative", "scale": {"domain": [0, 4], "nice": false}, "axis": null},
        "text": {"field": "close", "type": "quantitative", "format": "$.2f"}
      }
    },
    {
      "data": {"values": [{"note": "logo"}]},
      "encoding": {
        "x": {"datum": {"year": 2016, "month": 3, "date": 5, "utc": true}, "type": "temporal",
              "scale": {"type": "utc", "domain": [{"year": 2016, "month": 6, "date": 1, "utc": true}, {"year": 2021, "month": 1, "date": 3, "utc": true}], "nice": false}},
        "y": {"datum": 11.25, "type": "quantitative", "scale": {"domain": [0, 10], "nice": false}, "axis": null}
      },
      "layer": [
        {"mark": {"type": "point", "shape": "circle", "size": 200, "filled": false, "stroke": "#8b1c1c", "strokeWidth": 1.6, "opacity": 1}},
        {"mark": {"type": "point", "shape": "M0,-1L0.22,-0.22L1,0L0.22,0.22L0,1L-0.22,0.22L-1,0L-0.22,-0.22Z", "size": 484, "filled": true, "fill": "#8b1c1c", "opacity": 1}}
      ]
    },
    {
      "data": {"values": [{"note": "ADVISOR"}]},
      "mark": {"type": "text", "align": "left", "baseline": "alphabetic", "fontSize": 15, "fontWeight": "bold", "color": "#8b1c1c", "font": "Lato"},
      "encoding": {
        "x": {"datum": {"year": 2016, "month": 3, "date": 26, "utc": true}, "type": "temporal",
              "scale": {"type": "utc", "domain": [{"year": 2016, "month": 6, "date": 1, "utc": true}, {"year": 2021, "month": 1, "date": 3, "utc": true}], "nice": false}},
        "y": {"datum": 11.27, "type": "quantitative", "scale": {"domain": [0, 10], "nice": false}, "axis": null},
        "text": {"field": "note"}
      }
    },
    {
      "data": {"values": [{"note": "PERSPECTIVES"}]},
      "mark": {"type": "text", "align": "left", "baseline": "alphabetic", "fontSize": 12.5, "color": "#b5903c", "font": "Lato"},
      "encoding": {
        "x": {"datum": {"year": 2016, "month": 3, "date": 26, "utc": true}, "type": "temporal",
              "scale": {"type": "utc", "domain": [{"year": 2016, "month": 6, "date": 1, "utc": true}, {"year": 2021, "month": 1, "date": 3, "utc": true}], "nice": false}},
        "y": {"datum": 10.985, "type": "quantitative", "scale": {"domain": [0, 10], "nice": false}, "axis": null},
        "text": {"field": "note"}
      }
    },
    {
      "data": {"values": [{"note": "XRP"}]},
      "mark": {"type": "text", "align": "center", "baseline": "middle", "fontSize": 21, "fontWeight": "bold", "color": "#000", "font": "Lato"},
      "encoding": {
        "x": {"datum": {"year": 2018, "month": 8, "date": 28, "utc": true}, "type": "temporal",
              "scale": {"type": "utc", "domain": [{"year": 2016, "month": 6, "date": 1, "utc": true}, {"year": 2021, "month": 1, "date": 3, "utc": true}], "nice": false}},
        "y": {"datum": 11.25, "type": "quantitative", "scale": {"domain": [0, 10], "nice": false}, "axis": null},
        "text": {"field": "note"}
      }
    },
    {
      "data": {"values": [{"note": "advisorperspectives.com"}]},
      "mark": {"type": "text", "align": "right", "baseline": "middle", "fontSize": 14, "fontWeight": "bold", "color": "#1f3864", "font": "Lato"},
      "encoding": {
        "x": {"datum": {"year": 2021, "month": 3, "date": 22, "utc": true}, "type": "temporal",
              "scale": {"type": "utc", "domain": [{"year": 2016, "month": 6, "date": 1, "utc": true}, {"year": 2021, "month": 1, "date": 3, "utc": true}], "nice": false}},
        "y": {"datum": 11.37, "type": "quantitative", "scale": {"domain": [0, 10], "nice": false}, "axis": null},
        "text": {"field": "note"}
      }
    },
    {
      "data": {"values": [{"note": "Data through Sep 29"}]},
      "mark": {"type": "text", "align": "right", "baseline": "middle", "fontSize": 14, "fontWeight": "bold", "color": "#1f3864", "font": "Lato"},
      "encoding": {
        "x": {"datum": {"year": 2021, "month": 3, "date": 22, "utc": true}, "type": "temporal",
              "scale": {"type": "utc", "domain": [{"year": 2016, "month": 6, "date": 1, "utc": true}, {"year": 2021, "month": 1, "date": 3, "utc": true}], "nice": false}},
        "y": {"datum": 11.03, "type": "quantitative", "scale": {"domain": [0, 10], "nice": false}, "axis": null},
        "text": {"field": "note"}
      }
    }
  ]
}
